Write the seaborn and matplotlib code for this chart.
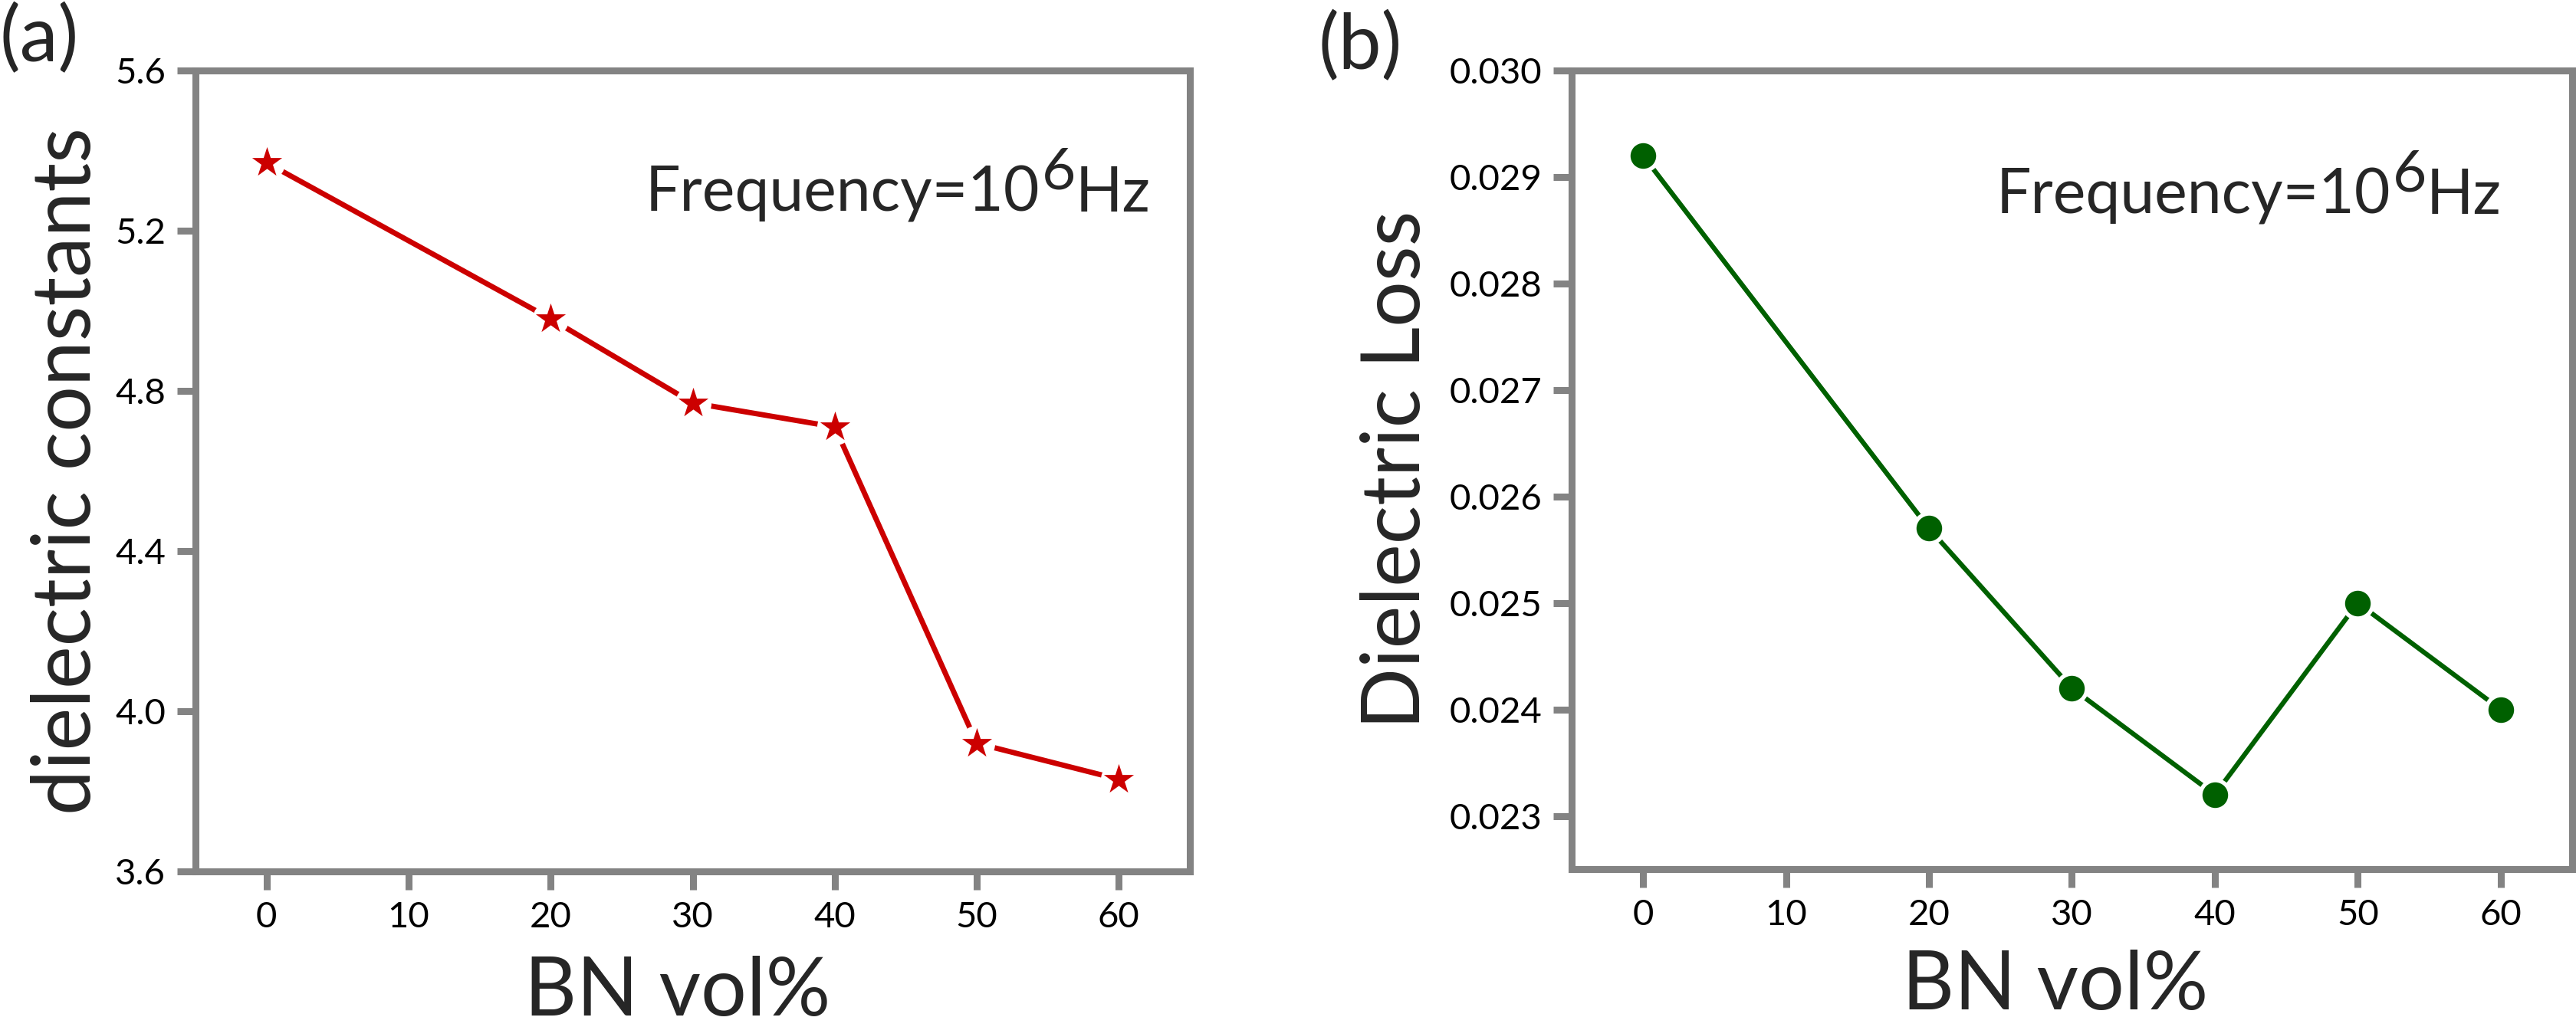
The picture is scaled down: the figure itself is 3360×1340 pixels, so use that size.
import matplotlib
matplotlib.use('Agg')
import matplotlib.pyplot as plt
import seaborn as sns
import pandas as pd

# values
bn_vol = [0, 20, 30, 40, 50, 60]
dielectric_constant = [5.37, 4.98, 4.77, 4.71, 3.92, 3.83]
dielectric_loss = [0.0292, 0.0257, 0.0242, 0.0232, 0.0250, 0.0240]

x_ticks = [0, 10, 20, 30, 40, 50, 60]
y_ticks_a = [3.6, 4.0, 4.4, 4.8, 5.2, 5.6]
y_ticks_b = [0.023, 0.024, 0.025, 0.026, 0.027, 0.028, 0.029, 0.030]

df = pd.DataFrame({'bn': bn_vol, 'eps': dielectric_constant, 'loss': dielectric_loss})

sns.set_style('white')
plt.rcParams['font.family'] = ['Lato', 'DejaVu Sans']

GRAY = '#838383'
RED = '#cc0000'
GREEN = '#006000'

fig = plt.figure(figsize=(33.6, 13.4), dpi=100)
ax_a = fig.add_axes([0.0759, 0.1515, 0.3860, 0.7798])
ax_b = fig.add_axes([0.6101, 0.1537, 0.3884, 0.7776])


def style_axes(ax, yticks, fmt, ylim):
    ax.set_xlim(-5, 65)
    ax.set_ylim(*ylim)
    ax.set_xticks(x_ticks)
    ax.set_xticklabels([str(v) for v in x_ticks])
    ax.set_yticks(yticks)
    ax.set_yticklabels([fmt.format(v) for v in yticks])
    for sp in ax.spines.values():
        sp.set_visible(True)
        sp.set_color(GRAY)
        sp.set_linewidth(6.5)
        sp.set_capstyle('projecting')
    ax.tick_params(axis='both', which='major', direction='out', length=17, width=6.5,
                   color=GRAY, labelsize=34, labelcolor='black', pad=11,
                   left=True, bottom=True, top=False, right=False)


def freq_label(ax, x, y):
    t1 = ax.text(x, y, 'Frequency=10', transform=ax.transAxes, fontsize=58, va='baseline')
    t2 = ax.annotate('6', xy=(1, 0), xycoords=t1, xytext=(2, 22), textcoords='offset points',
                     fontsize=55, va='bottom', ha='left')
    ax.annotate('Hz', xy=(1, 0), xycoords=t2, xytext=(0, -22), textcoords='offset points',
                fontsize=58, va='bottom', ha='left')


# (a) dielectric constant
sns.lineplot(data=df, x='bn', y='eps', ax=ax_a, color=RED, linewidth=5,
             solid_capstyle='round', zorder=2)
sns.scatterplot(data=df, x='bn', y='eps', ax=ax_a, color='white', s=1150,
                marker='o', linewidth=0, zorder=3)
sns.scatterplot(data=df, x='bn', y='eps', ax=ax_a, color=RED, s=880,
                marker='*', linewidth=0, zorder=4)
style_axes(ax_a, y_ticks_a, '{:.1f}', (3.6, 5.6))
ax_a.set_xlabel('BN vol%', fontsize=76)
ax_a.set_ylabel('dielectric constants', fontsize=76)
ax_a.xaxis.set_label_coords(0.485, -0.105)
ax_a.yaxis.set_label_coords(-0.092, 0.5)
freq_label(ax_a, 0.452, 0.824)

# (b) dielectric loss
sns.lineplot(data=df, x='bn', y='loss', ax=ax_b, color=GREEN, linewidth=4.5,
             solid_capstyle='round', zorder=2)
sns.scatterplot(data=df, x='bn', y='loss', ax=ax_b, color='white', s=1000,
                marker='o', linewidth=0, zorder=3)
sns.scatterplot(data=df, x='bn', y='loss', ax=ax_b, color=GREEN, s=580,
                marker='o', linewidth=0, zorder=4)
style_axes(ax_b, y_ticks_b, '{:.3f}', (0.0225, 0.030))
ax_b.set_xlabel('BN vol%', fontsize=76)
ax_b.set_ylabel('Dielectric Loss', fontsize=76)
ax_b.xaxis.set_label_coords(0.4835, -0.101)
ax_b.yaxis.set_label_coords(-0.138, 0.5)
freq_label(ax_b, 0.424, 0.821)

fig.text(0.0, 1 - 80 / 1340, '(a)', fontsize=72, va='baseline', ha='left')
fig.text(1720 / 3360, 1 - 90 / 1340, '(b)', fontsize=72, va='baseline', ha='left')

fig.savefig('out.png', dpi=100)
